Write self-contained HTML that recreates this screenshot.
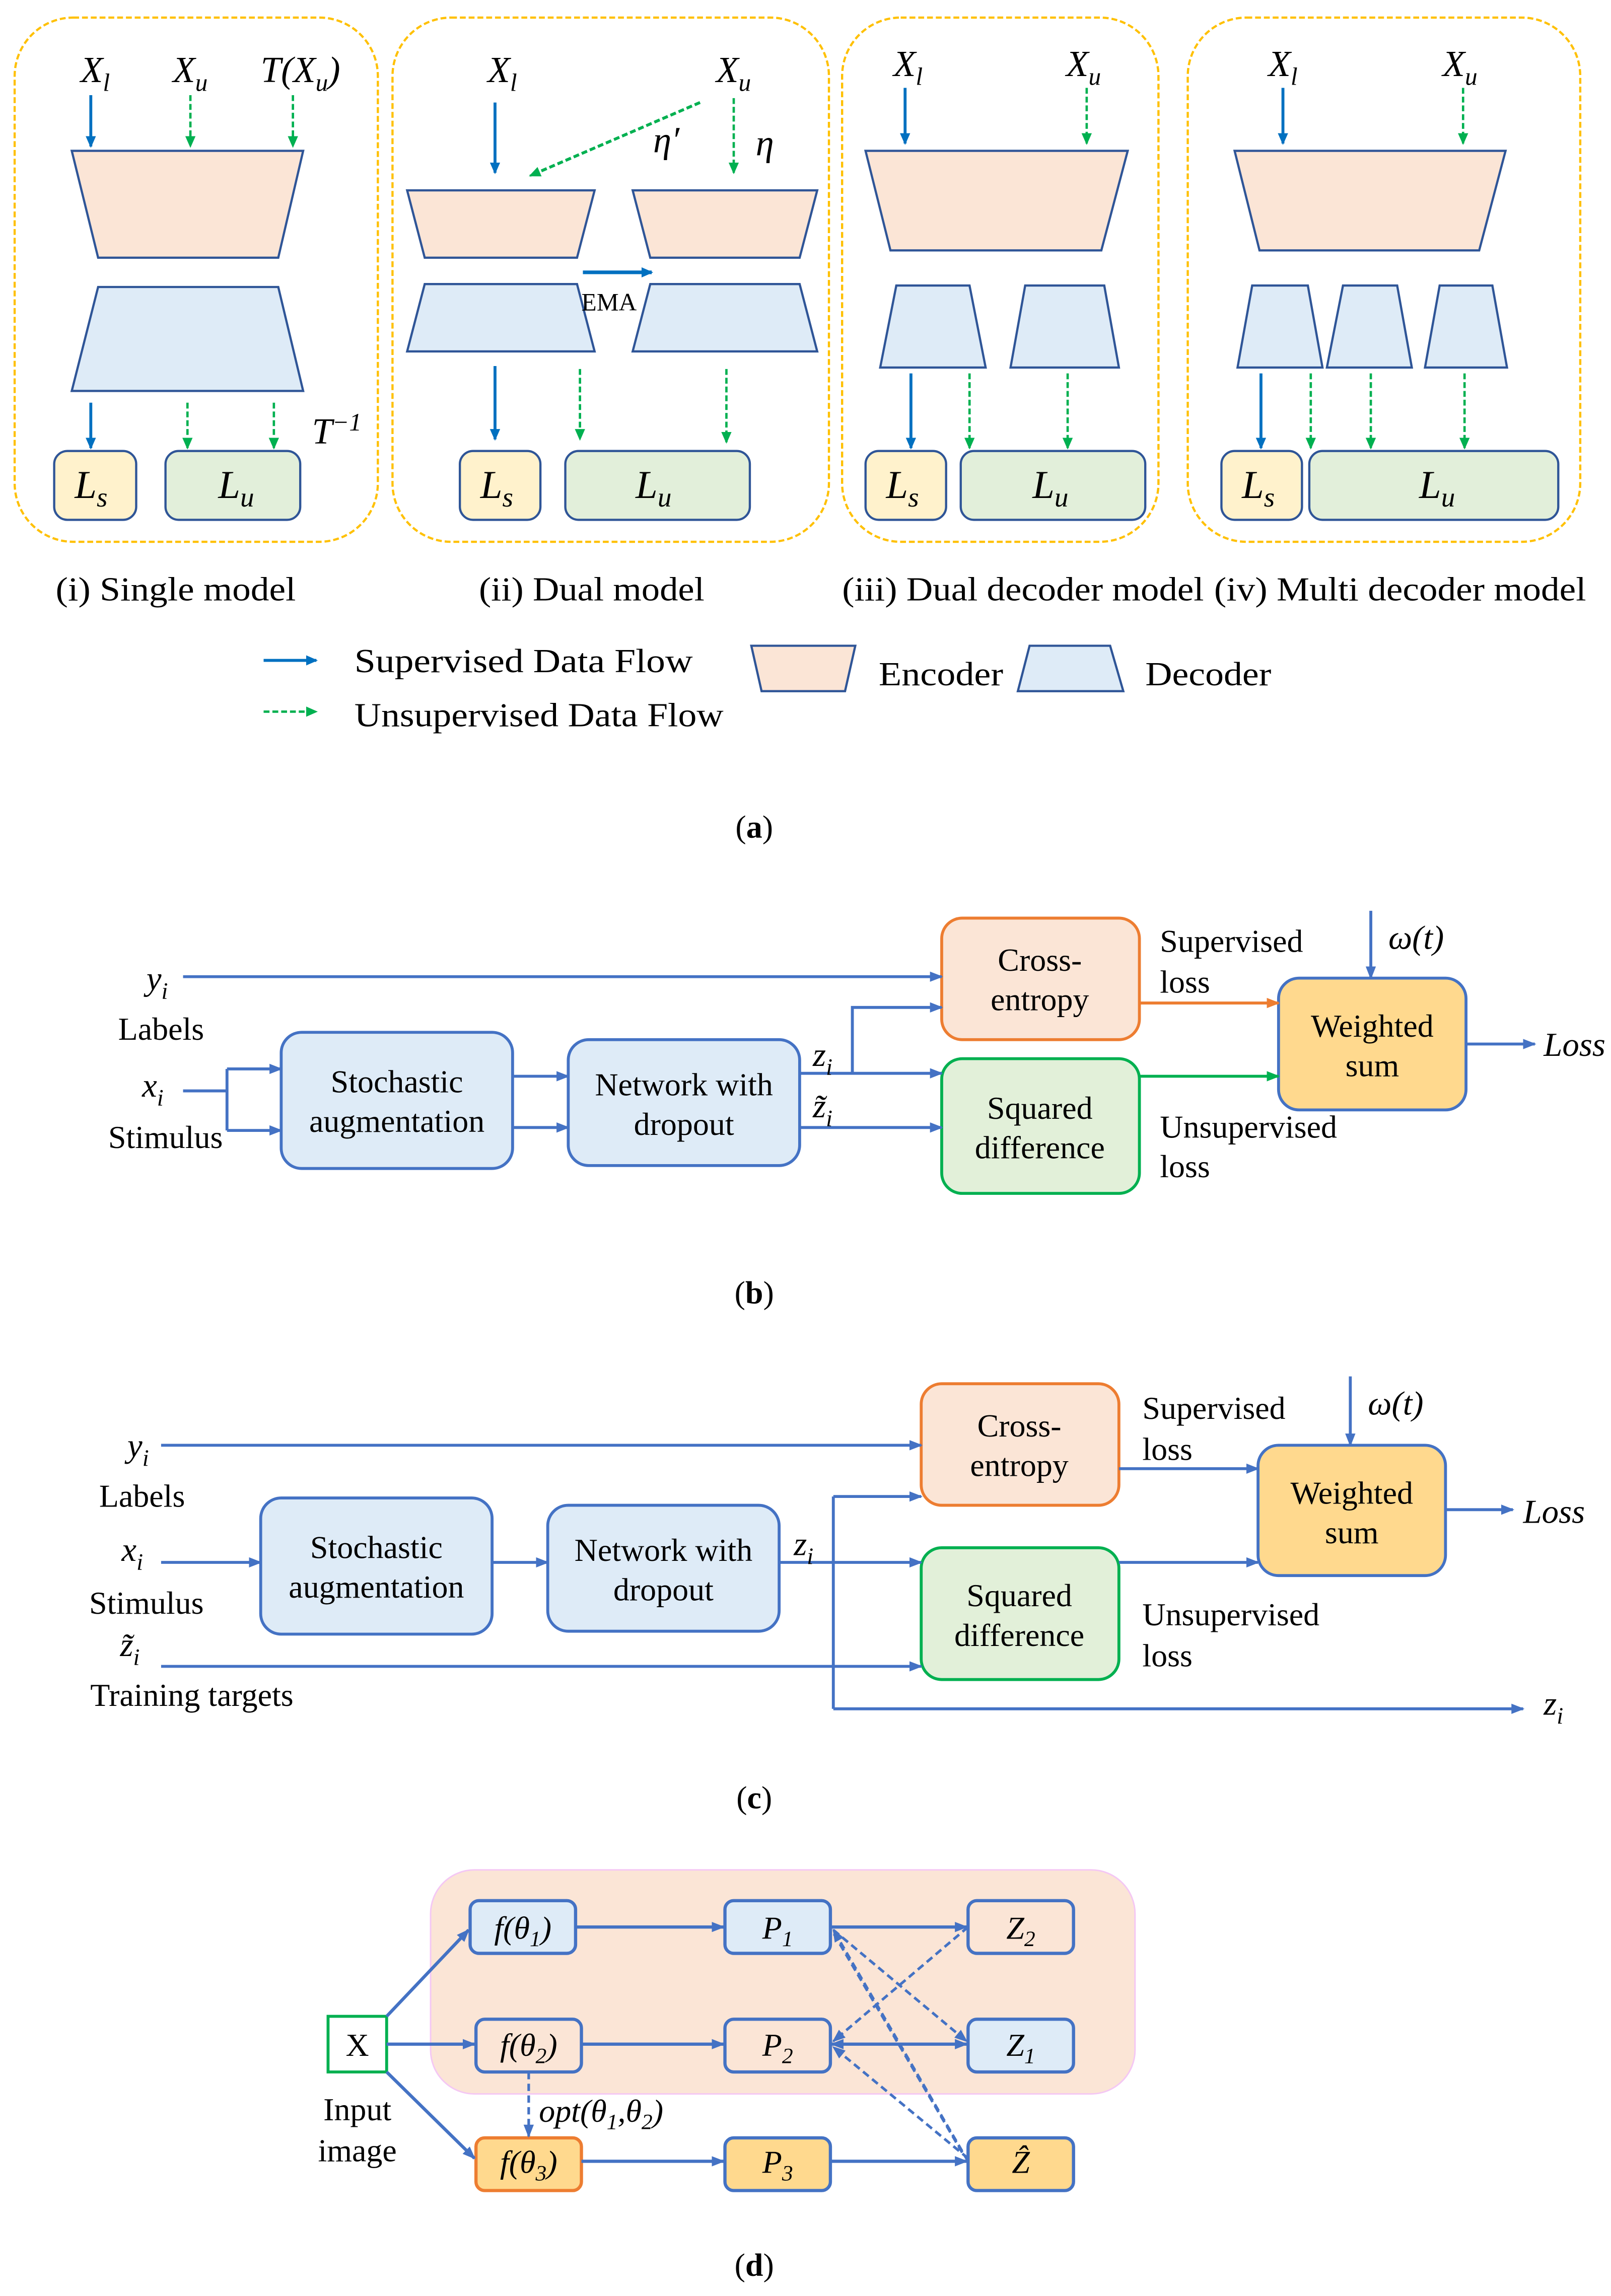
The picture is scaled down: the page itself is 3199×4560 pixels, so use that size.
<!DOCTYPE html>
<html><head><meta charset="utf-8"><style>
html,body{margin:0;padding:0;background:#fff}
svg{display:block}
text{font-family:"Liberation Serif",serif;fill:#000}
</style></head><body>
<svg width="3199" height="4560" viewBox="0 0 1100 1568" preserveAspectRatio="none" xmlns="http://www.w3.org/2000/svg">
<defs>
<marker id="ab" markerWidth="8" markerHeight="8" refX="7" refY="4" orient="auto" markerUnits="userSpaceOnUse"><path d="M0,0.5 L8,4 L0,7.5z" fill="#0070C0"/></marker>
<marker id="ag" markerWidth="8" markerHeight="8" refX="7" refY="4" orient="auto" markerUnits="userSpaceOnUse"><path d="M0,0.5 L8,4 L0,7.5z" fill="#00B050"/></marker>
<marker id="a4" markerWidth="9" markerHeight="8" refX="8" refY="4" orient="auto" markerUnits="userSpaceOnUse"><path d="M0,0.5 L9,4 L0,7.5z" fill="#4472C4"/></marker>
<marker id="a4s" markerWidth="9" markerHeight="8" refX="1" refY="4" orient="auto" markerUnits="userSpaceOnUse"><path d="M9,0.5 L0,4 L9,7.5z" fill="#4472C4"/></marker>
<marker id="ao" markerWidth="9" markerHeight="8" refX="8" refY="4" orient="auto" markerUnits="userSpaceOnUse"><path d="M0,0.5 L9,4 L0,7.5z" fill="#ED7D31"/></marker>
<marker id="agr" markerWidth="9" markerHeight="8" refX="8" refY="4" orient="auto" markerUnits="userSpaceOnUse"><path d="M0,0.5 L9,4 L0,7.5z" fill="#00B050"/></marker>
</defs>

<!-- (a) panels -->
<g fill="none" stroke="#FFC000" stroke-width="1.5" stroke-dasharray="4,2">
<rect x="10" y="12" width="248" height="358" rx="40"/>
<rect x="268" y="12" width="298" height="358" rx="40"/>
<rect x="575" y="12" width="216" height="358" rx="40"/>
<rect x="811" y="12" width="268" height="358" rx="40"/>
</g>
<g stroke="#2F5597" stroke-width="1.5">
<g fill="#FBE5D6">
<polygon points="49,103 207,103 190,176 67,176"/>
<polygon points="278,130 406,130 394,176 290,176"/>
<polygon points="432,130 558,130 546,176 444,176"/>
<polygon points="591,103 770,103 752,171 608,171"/>
<polygon points="843,103 1028,103 1010,171 860,171"/>
<polygon points="513,441 584,441 577,472 520,472"/>
</g>
<g fill="#DEEBF7">
<polygon points="67,196 190,196 207,267 49,267"/>
<polygon points="290,194 394,194 406,240 278,240"/>
<polygon points="444,194 546,194 558,240 432,240"/>
<polygon points="612,195 662,195 673,251 601,251"/>
<polygon points="700,195 754,195 764,251 690,251"/>
<polygon points="855,195 893,195 903,251 845,251"/>
<polygon points="917,195 954,195 964,251 906,251"/>
<polygon points="983,195 1019,195 1029,251 973,251"/>
<polygon points="703,441 758,441 767,472 695,472"/>
</g>
<g fill="#FFF2CC">
<rect x="37" y="308" width="56" height="47" rx="9"/>
<rect x="314" y="308" width="55" height="47" rx="9"/>
<rect x="591" y="308" width="55" height="47" rx="9"/>
<rect x="834" y="308" width="55" height="47" rx="9"/>
</g>
<g fill="#E2EFDA">
<rect x="113" y="308" width="92" height="47" rx="9"/>
<rect x="386" y="308" width="126" height="47" rx="9"/>
<rect x="656" y="308" width="126" height="47" rx="9"/>
<rect x="894" y="308" width="170" height="47" rx="9"/>
</g>
</g>
<!-- (a) arrows -->
<g stroke="#0070C0" stroke-width="2" marker-end="url(#ab)">
<line x1="62" y1="65" x2="62" y2="100"/>
<line x1="62" y1="275" x2="62" y2="306"/>
<line x1="338" y1="70" x2="338" y2="118"/>
<line x1="338" y1="250" x2="338" y2="300"/>
<line x1="618" y1="60" x2="618" y2="98"/>
<line x1="622" y1="255" x2="622" y2="306"/>
<line x1="876" y1="60" x2="876" y2="98"/>
<line x1="861" y1="255" x2="861" y2="306"/>
<line x1="398" y1="186" x2="445" y2="186" stroke-width="2.5"/>
<line x1="180" y1="451" x2="216" y2="451"/>
</g>
<g stroke="#00B050" stroke-width="1.6" stroke-dasharray="4,2" marker-end="url(#ag)">
<line x1="130" y1="65" x2="130" y2="100"/>
<line x1="200" y1="65" x2="200" y2="100"/>
<line x1="128" y1="275" x2="128" y2="306"/>
<line x1="187" y1="275" x2="187" y2="306"/>
<line x1="478" y1="70" x2="362" y2="120" stroke-width="2"/>
<line x1="501" y1="67" x2="501" y2="118"/>
<line x1="396" y1="252" x2="396" y2="300"/>
<line x1="496" y1="252" x2="496" y2="302"/>
<line x1="742" y1="60" x2="742" y2="98"/>
<line x1="662" y1="255" x2="662" y2="306"/>
<line x1="729" y1="255" x2="729" y2="306"/>
<line x1="999" y1="60" x2="999" y2="98"/>
<line x1="895" y1="255" x2="895" y2="306"/>
<line x1="936" y1="255" x2="936" y2="306"/>
<line x1="1000" y1="255" x2="1000" y2="306"/>
<line x1="180" y1="486" x2="216" y2="486"/>
</g>
<!-- (a) labels -->
<g font-size="25" font-style="italic">
<text x="55" y="56">X<tspan font-size="17" dy="6">l</tspan></text>
<text x="118" y="56">X<tspan font-size="17" dy="6">u</tspan></text>
<text x="178" y="56">T(X<tspan font-size="17" dy="6">u</tspan><tspan dy="-6">)</tspan></text>
<text x="213" y="303">T<tspan font-size="17" dy="-9">−1</tspan></text>
<text x="333" y="56">X<tspan font-size="17" dy="6">l</tspan></text>
<text x="489" y="56">X<tspan font-size="17" dy="6">u</tspan></text>
<text x="446" y="104">η′</text><text x="516" y="106">η</text>
<text x="610" y="52">X<tspan font-size="17" dy="6">l</tspan></text>
<text x="728" y="52">X<tspan font-size="17" dy="6">u</tspan></text>
<text x="866" y="52">X<tspan font-size="17" dy="6">l</tspan></text>
<text x="985" y="52">X<tspan font-size="17" dy="6">u</tspan></text>
<g font-size="27">
<text x="51" y="340">L<tspan font-size="19" dy="6">s</tspan></text>
<text x="149" y="340">L<tspan font-size="19" dy="6">u</tspan></text>
<text x="328" y="340">L<tspan font-size="19" dy="6">s</tspan></text>
<text x="434" y="340">L<tspan font-size="19" dy="6">u</tspan></text>
<text x="605" y="340">L<tspan font-size="19" dy="6">s</tspan></text>
<text x="705" y="340">L<tspan font-size="19" dy="6">u</tspan></text>
<text x="848" y="340">L<tspan font-size="19" dy="6">s</tspan></text>
<text x="969" y="340">L<tspan font-size="19" dy="6">u</tspan></text>
</g>
</g>
<text x="397" y="212" font-size="17">EMA</text>
<g font-size="23">
<text x="38" y="410" textLength="164" lengthAdjust="spacingAndGlyphs">(i) Single model</text>
<text x="327" y="410" textLength="154" lengthAdjust="spacingAndGlyphs">(ii) Dual model</text>
<text x="575" y="410" textLength="247" lengthAdjust="spacingAndGlyphs">(iii) Dual decoder model</text>
<text x="829" y="410" textLength="254" lengthAdjust="spacingAndGlyphs">(iv) Multi decoder model</text>
<text x="242" y="459" textLength="231" lengthAdjust="spacingAndGlyphs">Supervised  Data Flow</text>
<text x="242" y="496" textLength="252" lengthAdjust="spacingAndGlyphs">Unsupervised Data Flow</text>
<text x="600" y="468" textLength="85" lengthAdjust="spacingAndGlyphs">Encoder</text>
<text x="782" y="468" textLength="86" lengthAdjust="spacingAndGlyphs">Decoder</text>
</g>
<text x="515" y="572" font-size="22" text-anchor="middle">(<tspan font-weight="bold">a</tspan>)</text>

<!-- (b) -->
<g stroke-width="2">
<rect x="643" y="627" width="135" height="83" rx="14" fill="#FBE5D6" stroke="#ED7D31"/>
<rect x="643" y="723" width="135" height="92" rx="14" fill="#E2F0D9" stroke="#00B050"/>
<rect x="873" y="668" width="128" height="90" rx="14" fill="#FFD98E" stroke="#4472C4"/>
<rect x="192" y="705" width="158" height="93" rx="14" fill="#DEEBF7" stroke="#4472C4"/>
<rect x="388" y="710" width="158" height="86" rx="14" fill="#DEEBF7" stroke="#4472C4"/>
</g>
<g stroke="#4472C4" stroke-width="2" fill="none">
<line x1="125" y1="667" x2="643" y2="667" marker-end="url(#a4)"/>
<polyline points="125,745 155,745"/>
<line x1="155" y1="730" x2="155" y2="772"/>
<line x1="155" y1="730" x2="192" y2="730" marker-end="url(#a4)"/>
<line x1="155" y1="772" x2="192" y2="772" marker-end="url(#a4)"/>
<line x1="350" y1="735" x2="388" y2="735" marker-end="url(#a4)"/>
<line x1="350" y1="770" x2="388" y2="770" marker-end="url(#a4)"/>
<line x1="546" y1="733" x2="643" y2="733" marker-end="url(#a4)"/>
<polyline points="582,733 582,688 643,688" marker-end="url(#a4)"/>
<line x1="546" y1="770" x2="643" y2="770" marker-end="url(#a4)"/>
<line x1="936" y1="622" x2="936" y2="668" marker-end="url(#a4)"/>
<line x1="1001" y1="713" x2="1048" y2="713" marker-end="url(#a4)"/>
</g>
<line x1="778" y1="685" x2="873" y2="685" stroke="#ED7D31" stroke-width="2" marker-end="url(#ao)"/>
<line x1="778" y1="735" x2="873" y2="735" stroke="#00B050" stroke-width="2" marker-end="url(#agr)"/>
<g font-size="22" text-anchor="middle">
<text x="710" y="663">Cross-</text><text x="710" y="690">entropy</text>
<text x="710" y="764">Squared</text><text x="710" y="791">difference</text>
<text x="937" y="708">Weighted</text><text x="937" y="735">sum</text>
<text x="271" y="746">Stochastic</text><text x="271" y="773">augmentation</text>
<text x="467" y="748">Network with</text><text x="467" y="775">dropout</text>
<text x="110" y="710">Labels</text><text x="113" y="784">Stimulus</text>
</g>
<g font-size="22">
<text x="792" y="650">Supervised</text><text x="792" y="678">loss</text>
<text x="792" y="777">Unsupervised</text><text x="792" y="804">loss</text>
</g>
<g font-size="23" font-style="italic">
<text x="100" y="676">y<tspan font-size="16" dy="6">i</tspan></text>
<text x="97" y="749">x<tspan font-size="16" dy="6">i</tspan></text>
<text x="555" y="728">z<tspan font-size="16" dy="6">i</tspan></text>
<text x="555" y="763">z̃<tspan font-size="16" dy="6">i</tspan></text>
<text x="948" y="648">ω(t)</text>
<text x="1054" y="721">Loss</text>
</g>
<text x="515" y="890" font-size="22" text-anchor="middle">(<tspan font-weight="bold">b</tspan>)</text>

<!-- (c) -->
<g stroke-width="2">
<rect x="629" y="945" width="135" height="83" rx="14" fill="#FBE5D6" stroke="#ED7D31"/>
<rect x="629" y="1057" width="135" height="90" rx="14" fill="#E2F0D9" stroke="#00B050"/>
<rect x="859" y="987" width="128" height="89" rx="14" fill="#FFD98E" stroke="#4472C4"/>
<rect x="178" y="1023" width="158" height="93" rx="14" fill="#DEEBF7" stroke="#4472C4"/>
<rect x="374" y="1028" width="158" height="86" rx="14" fill="#DEEBF7" stroke="#4472C4"/>
</g>
<g stroke="#4472C4" stroke-width="2" fill="none">
<line x1="110" y1="987" x2="629" y2="987" marker-end="url(#a4)"/>
<line x1="110" y1="1067" x2="178" y2="1067" marker-end="url(#a4)"/>
<line x1="336" y1="1067" x2="374" y2="1067" marker-end="url(#a4)"/>
<line x1="532" y1="1067" x2="629" y2="1067" marker-end="url(#a4)"/>
<line x1="569" y1="1022" x2="569" y2="1167"/>
<line x1="569" y1="1022" x2="629" y2="1022" marker-end="url(#a4)"/>
<line x1="569" y1="1167" x2="1040" y2="1167" marker-end="url(#a4)"/>
<line x1="110" y1="1138" x2="629" y2="1138" marker-end="url(#a4)"/>
<line x1="764" y1="1003" x2="859" y2="1003" marker-end="url(#a4)"/>
<line x1="764" y1="1067" x2="859" y2="1067" marker-end="url(#a4)"/>
<line x1="922" y1="940" x2="922" y2="987" marker-end="url(#a4)"/>
<line x1="987" y1="1031" x2="1033" y2="1031" marker-end="url(#a4)"/>
</g>
<g font-size="22" text-anchor="middle">
<text x="696" y="981">Cross-</text><text x="696" y="1008">entropy</text>
<text x="696" y="1097">Squared</text><text x="696" y="1124">difference</text>
<text x="923" y="1027">Weighted</text><text x="923" y="1054">sum</text>
<text x="257" y="1064">Stochastic</text><text x="257" y="1091">augmentation</text>
<text x="453" y="1066">Network with</text><text x="453" y="1093">dropout</text>
<text x="97" y="1029">Labels</text><text x="100" y="1102">Stimulus</text>
<text x="131" y="1165">Training targets</text>
</g>
<g font-size="22">
<text x="780" y="969">Supervised</text><text x="780" y="997">loss</text>
<text x="780" y="1110">Unsupervised</text><text x="780" y="1138">loss</text>
</g>
<g font-size="23" font-style="italic">
<text x="87" y="995">y<tspan font-size="16" dy="6">i</tspan></text>
<text x="83" y="1066">x<tspan font-size="16" dy="6">i</tspan></text>
<text x="82" y="1131">z̃<tspan font-size="16" dy="6">i</tspan></text>
<text x="542" y="1062">z<tspan font-size="16" dy="6">i</tspan></text>
<text x="1054" y="1171">z<tspan font-size="16" dy="6">i</tspan></text>
<text x="934" y="966">ω(t)</text>
<text x="1040" y="1040">Loss</text>
</g>
<text x="515" y="1235" font-size="22" text-anchor="middle">(<tspan font-weight="bold">c</tspan>)</text>

<!-- (d) -->
<rect x="294" y="1277" width="481" height="153" rx="30" fill="#FBE5D6" stroke="#F4C7F4" stroke-width="1"/>
<g stroke="#4472C4" stroke-width="2.2">
<rect x="321" y="1298" width="72" height="36" rx="6" fill="#DEEBF7"/>
<rect x="495" y="1298" width="72" height="36" rx="6" fill="#DEEBF7"/>
<rect x="661" y="1298" width="72" height="36" rx="6" fill="#FBE5D6"/>
<rect x="325" y="1379" width="72" height="36" rx="6" fill="#FBE5D6"/>
<rect x="495" y="1379" width="72" height="36" rx="6" fill="#FBE5D6"/>
<rect x="661" y="1379" width="72" height="36" rx="6" fill="#DEEBF7"/>
<rect x="325" y="1460" width="72" height="36" rx="6" fill="#FFD98E" stroke="#ED7D31"/>
<rect x="495" y="1460" width="72" height="36" rx="6" fill="#FFD98E"/>
<rect x="661" y="1460" width="72" height="36" rx="6" fill="#FFD98E"/>
</g>
<rect x="224" y="1377" width="40" height="38" fill="#fff" stroke="#00B050" stroke-width="2"/>
<g stroke="#4472C4" stroke-width="2.2" fill="none">
<line x1="264" y1="1377" x2="320" y2="1318" marker-end="url(#a4)"/>
<line x1="264" y1="1396" x2="324" y2="1396" marker-end="url(#a4)"/>
<line x1="264" y1="1415" x2="324" y2="1474" marker-end="url(#a4)"/>
<line x1="393" y1="1316" x2="494" y2="1316" marker-end="url(#a4)"/>
<line x1="397" y1="1396" x2="494" y2="1396" marker-end="url(#a4)"/>
<line x1="397" y1="1476" x2="494" y2="1476" marker-end="url(#a4)"/>
<line x1="567" y1="1316" x2="660" y2="1316" marker-end="url(#a4)"/>
<line x1="568" y1="1396" x2="660" y2="1396" marker-start="url(#a4s)" marker-end="url(#a4)"/>
<line x1="567" y1="1476" x2="660" y2="1476" marker-end="url(#a4)"/>
</g>
<g stroke="#4472C4" stroke-width="1.8" fill="none" stroke-dasharray="5,3">
<line x1="661" y1="1316" x2="569" y2="1394" marker-end="url(#a4)"/>
<line x1="569" y1="1318" x2="660" y2="1394" marker-end="url(#a4)"/>
<line x1="661" y1="1476" x2="569" y2="1318" marker-end="url(#a4)"/>
<line x1="657" y1="1470" x2="569" y2="1320" />
<line x1="661" y1="1474" x2="569" y2="1398" marker-end="url(#a4)"/>
<line x1="361" y1="1415" x2="361" y2="1459" marker-end="url(#a4)"/>
</g>
<g font-size="22" font-style="italic" text-anchor="middle">
<text x="357" y="1324">f(θ<tspan font-size="15" dy="5">1</tspan><tspan dy="-5">)</tspan></text>
<text x="361" y="1404">f(θ<tspan font-size="15" dy="5">2</tspan><tspan dy="-5">)</tspan></text>
<text x="361" y="1484">f(θ<tspan font-size="15" dy="5">3</tspan><tspan dy="-5">)</tspan></text>
<text x="531" y="1324">P<tspan font-size="15" dy="5">1</tspan></text>
<text x="531" y="1404">P<tspan font-size="15" dy="5">2</tspan></text>
<text x="531" y="1484">P<tspan font-size="15" dy="5">3</tspan></text>
<text x="697" y="1324">Z<tspan font-size="15" dy="5">2</tspan></text>
<text x="697" y="1404">Z<tspan font-size="15" dy="5">1</tspan></text>
<text x="697" y="1484">Ẑ</text>
</g>
<text x="368" y="1449" font-size="22" font-style="italic">opt(θ<tspan font-size="15" dy="5">1</tspan><tspan dy="-5">,θ</tspan><tspan font-size="15" dy="5">2</tspan><tspan dy="-5">)</tspan></text>
<g font-size="22" text-anchor="middle">
<text x="244" y="1404">X</text>
<text x="244" y="1448">Input</text>
<text x="244" y="1476">image</text>
</g>
<text x="515" y="1554" font-size="22" text-anchor="middle">(<tspan font-weight="bold">d</tspan>)</text>
</svg>
</body></html>
